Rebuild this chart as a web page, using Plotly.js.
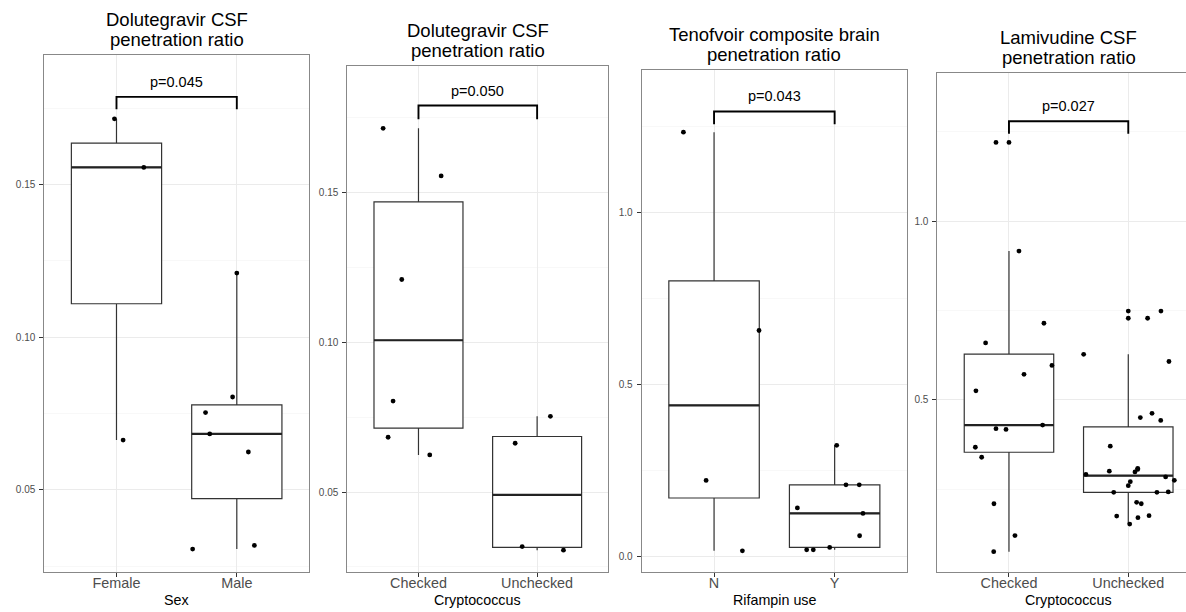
<!DOCTYPE html>
<html>
<head>
<meta charset="utf-8">
<script src="https://cdn.plot.ly/plotly-3.0.1.min.js"></script>
<style>
  html, body { margin: 0; padding: 0; background: #fff; }
  #chart { width: 1186px; height: 612px; }
</style>
</head>
<body>
<div id="chart"></div>
<script>
// ---------------- DATA ----------------
// Panel 1: Dolutegravir CSF penetration ratio by Sex
const sexCategories = ['Female', 'Male'];
const dtgFemale = [0.1715, 0.1556, 0.0663];
const dtgMale = [0.1210, 0.0804, 0.0753, 0.0683, 0.0624, 0.0318, 0.0306];
const jitterFemale = [-0.017, 0.227, 0.055];
const jitterMale = [0.000, -0.035, -0.260, -0.225, 0.096, 0.146, -0.367];

// Panel 2: Dolutegravir CSF penetration ratio by Cryptococcus
const cryptoCategories = ['Checked', 'Unchecked'];
const dtgChecked = [0.1715, 0.1556, 0.1210, 0.0804, 0.0683, 0.0624];
const dtgUnchecked = [0.0753, 0.0663, 0.0318, 0.0306];
const jitterDtgChecked = [-0.298, 0.191, -0.141, -0.214, -0.256, 0.095];
const jitterDtgUnchecked = [0.112, -0.185, -0.126, 0.222];

// Panel 3: Tenofovir composite brain penetration ratio by Rifampin use
const rifCategories = ['N', 'Y'];
const tfvN = [1.233, 0.656, 0.220, 0.015];
const tfvY = [0.322, 0.207, 0.207, 0.140, 0.124, 0.059, 0.025, 0.018, 0.018];
const jitterTfvN = [-0.254, 0.373, -0.066, 0.235];
const jitterTfvY = [0.017, 0.094, 0.204, -0.309, 0.235, 0.207, -0.041, -0.232, -0.177];

// Panel 4: Lamivudine CSF penetration ratio by Cryptococcus
const ltcChecked = [1.220, 0.916, 0.714, 0.659, 0.596, 0.571, 0.525, 0.429, 0.419, 0.417, 0.367, 0.339, 0.209, 0.120, 0.075];
const jitterLtcChecked = [-0.109, 0.084, 0.293, -0.196, 0.360, 0.126, -0.277, 0.282, -0.109, -0.025, -0.282, -0.229, -0.126, 0.050, -0.128];
const ltcUnchecked = [0.748, 0.728, 0.627, 0.607, 0.462, 0.450, 0.442, 0.370, 0.308, 0.300, 0.298, 0.291, 0.284, 0.2745, 0.2706, 0.2594, 0.241, 0.241, 0.242, 0.213, 0.209, 0.1746, 0.170, 0.1755, 0.152, 0.305];
const jitterLtcUnchecked = [0.274, 0.162, -0.374, 0.341, 0.199, 0.101, 0.272, -0.151, 0.079, -0.159, 0.056, -0.355, 0.313, 0.386, 0.017, 0.000, -0.122, 0.240, 0.335, 0.070, 0.109, -0.097, 0.081, 0.174, 0.012, 0.079];

// Titles / labels / p-values
const panelTitles = [
  ['Dolutegravir CSF', 'penetration ratio'],
  ['Dolutegravir CSF', 'penetration ratio'],
  ['Tenofvoir composite brain', 'penetration ratio'],
  ['Lamivudine CSF', 'penetration ratio']
];
const xAxisTitles = ['Sex', 'Cryptococcus', 'Rifampin use', 'Cryptococcus'];
const pValues = ['p=0.045', 'p=0.050', 'p=0.043', 'p=0.027'];

// ---------------- LAYOUT CONFIG (pixels) ----------------
const W = 1186, H = 612;
const panels = [
  {left: 44.3, right: 309.0, top: 55.0, bottom: 572, yRange: [0.0231, 0.1924], xRange: [0.4, 2.6], dtick: 0.05, fmt: '.2f',
   bracket: {tip: 0.1746, top: 0.1787, text: 0.1836}, titleY: [19.5, 40.0], center: 176.7, mirrorY: true},
  {left: 347.3, right: 608.3, top: 65.7, bottom: 572, yRange: [0.0233, 0.1924], xRange: [0.4, 2.6], dtick: 0.05, fmt: '.2f',
   bracket: {tip: 0.1745, top: 0.1791, text: 0.1839}, titleY: [30.2, 50.2], center: 477.8, mirrorY: true},
  {left: 641.7, right: 907.0, top: 69.6, bottom: 572, yRange: [-0.0465, 1.415], xRange: [0.4, 2.6], dtick: 0.5, fmt: '.1f',
   bracket: {tip: 1.256, top: 1.293, text: 1.339}, titleY: [34.1, 54.1], center: 774.3, mirrorY: true},
  {left: 937.4, right: 1186, top: 72.7, bottom: 572, yRange: [0.018, 1.415], xRange: [0.4, 0.4 + (1186 - 937.4) / 119.3], dtick: 0.5, fmt: '.1f',
   bracket: {tip: 1.244, top: 1.279, text: 1.321}, titleY: [37.2, 57.2], center: 1068.7, mirrorY: false}
];

const groups = [
  {cats: sexCategories, data: [dtgFemale, dtgMale], jit: [jitterFemale, jitterMale]},
  {cats: cryptoCategories, data: [dtgChecked, dtgUnchecked], jit: [jitterDtgChecked, jitterDtgUnchecked]},
  {cats: rifCategories, data: [tfvN, tfvY], jit: [jitterTfvN, jitterTfvY]},
  {cats: cryptoCategories, data: [ltcChecked, ltcUnchecked], jit: [jitterLtcChecked, jitterLtcUnchecked]}
];

// ---------------- STATS (R type 7 quantiles, 1.5 IQR whiskers) ----------------
function q7(sorted, p) {
  const h = (sorted.length - 1) * p;
  const lo = Math.floor(h), hi = Math.ceil(h);
  return sorted[lo] + (h - lo) * (sorted[hi] - sorted[lo]);
}
function boxStats(vals) {
  const s = vals.slice().sort((a, b) => a - b);
  const q1 = q7(s, 0.25), med = q7(s, 0.5), q3 = q7(s, 0.75);
  const iqr = q3 - q1;
  const loF = q1 - 1.5 * iqr, hiF = q3 + 1.5 * iqr;
  const inside = s.filter(v => v >= loF && v <= hiF);
  const outliers = s.filter(v => v < loF || v > hiF);
  return {q1, med, q3, lo: inside[0], hi: inside[inside.length - 1], outliers};
}

const FONT = 'Liberation Sans, Arial, Helvetica, sans-serif';
const traces = [];
const layout = {
  width: W, height: H,
  margin: {l: 0, r: 0, t: 0, b: 0, pad: 0},
  paper_bgcolor: '#ffffff', plot_bgcolor: '#ffffff',
  showlegend: false, boxmode: 'overlay',
  font: {family: FONT, color: '#000'},
  annotations: []
};

panels.forEach((p, i) => {
  const n = i + 1;
  const xa = 'x' + (n === 1 ? '' : n), ya = 'y' + (n === 1 ? '' : n);
  const xKey = 'xaxis' + (n === 1 ? '' : n), yKey = 'yaxis' + (n === 1 ? '' : n);
  const g = groups[i];
  const stats = g.data.map(boxStats);
  const pos = [1, 2];

  traces.push({
    type: 'box', orientation: 'v', x: pos, xaxis: xa, yaxis: ya,
    q1: stats.map(s => s.q1), median: stats.map(s => s.med), q3: stats.map(s => s.q3),
    lowerfence: stats.map(s => s.lo), upperfence: stats.map(s => s.hi),
    width: 0.75, whiskerwidth: 0, boxpoints: false,
    fillcolor: '#ffffff', line: {color: '#333333', width: 1.2}, hoverinfo: 'skip'
  });
  // thicker median (ggplot fatten = 2)
  stats.forEach((s, k) => {
    traces.push({type: 'scatter', mode: 'lines', xaxis: xa, yaxis: ya,
      x: [pos[k] - 0.375, pos[k] + 0.375], y: [s.med, s.med],
      line: {color: '#222222', width: 2.2}, hoverinfo: 'skip'});
  });
  // boxplot outliers at category centre
  const ox = [], oy = [];
  stats.forEach((s, k) => s.outliers.forEach(v => { ox.push(pos[k]); oy.push(v); }));
  if (ox.length) traces.push({type: 'scatter', mode: 'markers', xaxis: xa, yaxis: ya, x: ox, y: oy,
    marker: {color: '#000', size: 4.8}, hoverinfo: 'skip'});
  // jittered points
  const jx = [], jy = [];
  g.data.forEach((arr, k) => arr.forEach((v, m) => { jx.push(pos[k] + g.jit[k][m]); jy.push(v); }));
  traces.push({type: 'scatter', mode: 'markers', xaxis: xa, yaxis: ya, x: jx, y: jy,
    marker: {color: '#000', size: 4.8}, hoverinfo: 'skip'});
  // significance bracket
  const b = p.bracket;
  traces.push({type: 'scatter', mode: 'lines', xaxis: xa, yaxis: ya,
    x: [1, 1, 2, 2], y: [b.tip, b.top, b.top, b.tip],
    line: {color: '#000', width: 1.9}, hoverinfo: 'skip', cliponaxis: false});
  layout.annotations.push({xref: xa, yref: ya, x: 1.5, y: b.text, text: pValues[i], showarrow: false,
    xanchor: 'center', yanchor: 'middle', font: {family: FONT, size: 14.5, color: '#000'}});

  // axes
  layout[xKey] = {
    domain: [p.left / W, p.right / W], range: p.xRange, anchor: ya,
    tickmode: 'array', tickvals: pos, ticktext: g.cats,
    ticks: 'outside', ticklen: 4, tickcolor: '#333', tickwidth: 1,
    ticklabelstandoff: -6,
    tickfont: {family: FONT, size: 14.4, color: '#4D4D4D'},
    showgrid: true, gridcolor: '#EBEBEB', gridwidth: 1, zeroline: false,
    showline: true, linecolor: '#888', linewidth: 1, mirror: true, fixedrange: true
  };
  layout[yKey] = {
    domain: [1 - p.bottom / H, 1 - p.top / H], range: p.yRange, anchor: xa,
    tick0: 0, dtick: p.dtick, tickformat: p.fmt,
    ticks: 'outside', ticklen: 4, tickcolor: '#333', tickwidth: 1,
    ticklabelstandoff: 2,
    tickfont: {family: FONT, size: 10, color: '#4D4D4D'},
    showgrid: true, gridcolor: '#EBEBEB', gridwidth: 1, zeroline: false,
    minor: {dtick: p.dtick / 2, tick0: 0, showgrid: true, gridcolor: '#F3F3F3', gridwidth: 0.6},
    showline: true, linecolor: '#888', linewidth: 1, mirror: p.mirrorY, fixedrange: true
  };

  // panel titles (two lines) and x-axis title
  panelTitles[i].forEach((line, k) => {
    layout.annotations.push({xref: 'paper', yref: 'paper', x: p.center / W, y: 1 - p.titleY[k] / H,
      text: line, showarrow: false, xanchor: 'center', yanchor: 'middle',
      font: {family: FONT, size: 18.5, color: '#000'}});
  });
  layout.annotations.push({xref: 'paper', yref: 'paper', x: p.center / W, y: 1 - 600 / H,
    text: xAxisTitles[i], showarrow: false, xanchor: 'center', yanchor: 'middle',
    font: {family: FONT, size: 14.3, color: '#000'}});
});

Plotly.newPlot('chart', traces, layout, {displayModeBar: false, staticPlot: true});
</script>
</body>
</html>
